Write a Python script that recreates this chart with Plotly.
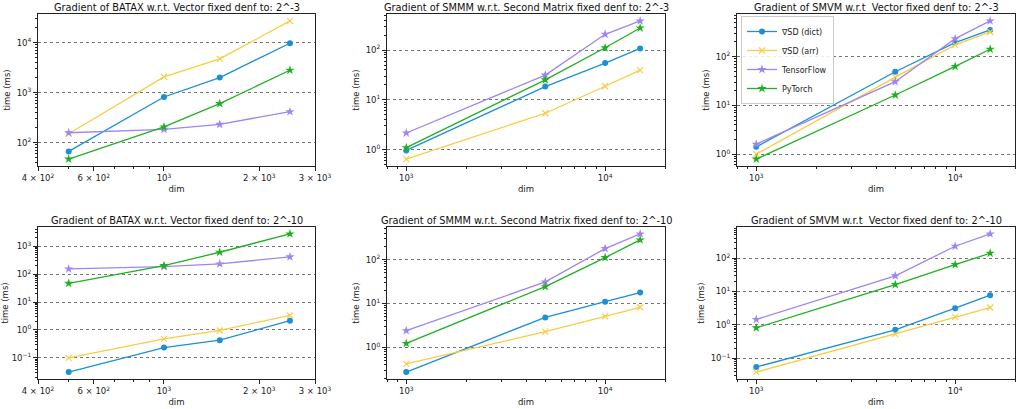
import math
import plotly.graph_objects as go

# ---------------- data ----------------
series_names = ["∇SD (dict)", "∇SD (arr)", "TensorFlow", "PyTorch"]
dims_batax = [500, 1000, 1500, 2500]
dims_sm = [1000, 5000, 10000, 15000]

batax_m3_dict = [67, 819, 2000, 9700]
batax_m3_arr = [151, 2057, 4710, 27100]
batax_m3_tf = [158, 185, 233, 417]
batax_m3_torch = [47, 206, 603, 2800]

smmm_m3_dict = [0.97, 18.5, 54.7, 108]
smmm_m3_arr = [0.65, 5.4, 18.8, 39.6]
smmm_m3_tf = [2.17, 31.4, 207, 384]
smmm_m3_torch = [1.1, 25.3, 111, 277]

smvm_m3_dict = [1.41, 49, 194, 353]
smvm_m3_arr = [1.0, 38, 174, 321]
smvm_m3_tf = [1.6, 30.6, 234, 541]
smvm_m3_torch = [0.79, 16.3, 63, 142]

batax_m10_dict = [0.031, 0.234, 0.43, 2.16]
batax_m10_arr = [0.1, 0.48, 0.96, 3.35]
batax_m10_tf = [154, 186, 233, 417]
batax_m10_torch = [47, 203, 610, 2770]

smmm_m10_dict = [0.274, 4.83, 11.0, 17.7]
smmm_m10_arr = [0.42, 2.28, 5.1, 8.2]
smmm_m10_tf = [2.4, 31, 178, 385]
smmm_m10_torch = [1.23, 24.2, 111, 281]

smvm_m10_dict = [0.054, 0.71, 3.16, 7.76]
smvm_m10_arr = [0.038, 0.525, 1.7, 3.3]
smvm_m10_tf = [1.45, 29.5, 229, 537]
smvm_m10_torch = [0.81, 16.2, 64.6, 141]

titles = [
    "Gradient of BATAX w.r.t. Vector fixed denf to: 2^-3",
    "Gradient of SMMM w.r.t. Second Matrix fixed denf to: 2^-3",
    "Gradient of SMVM w.r.t\u00a0 Vector fixed denf to: 2^-3",
    "Gradient of BATAX w.r.t. Vector fixed denf to: 2^-10",
    "Gradient of SMMM w.r.t. Second Matrix fixed denf to: 2^-10",
    "Gradient of SMVM w.r.t\u00a0 Vector fixed denf to: 2^-10",
]

batax_xticks = [400, 600, 1000, 2000, 3000]
batax_xticktext = ["4 × 10<sup>2</sup>", "6 × 10<sup>2</sup>", "10<sup>3</sup>",
                   "2 × 10<sup>3</sup>", "3 × 10<sup>3</sup>"]
sm_xticks = [1000, 10000]
sm_xticktext = ["10<sup>3</sup>", "10<sup>4</sup>"]

panels = [
    (dims_batax, [batax_m3_dict, batax_m3_arr, batax_m3_tf, batax_m3_torch], "batax"),
    (dims_sm, [smmm_m3_dict, smmm_m3_arr, smmm_m3_tf, smmm_m3_torch], "sm"),
    (dims_sm, [smvm_m3_dict, smvm_m3_arr, smvm_m3_tf, smvm_m3_torch], "sm"),
    (dims_batax, [batax_m10_dict, batax_m10_arr, batax_m10_tf, batax_m10_torch], "batax"),
    (dims_sm, [smmm_m10_dict, smmm_m10_arr, smmm_m10_tf, smmm_m10_torch], "sm"),
    (dims_sm, [smvm_m10_dict, smvm_m10_arr, smvm_m10_tf, smvm_m10_torch], "sm"),
]

# ---------------- style ----------------
colors = ["#1b8fd8", "#f7cd45", "#9e85f2", "#1fb022"]
symbols = ["circle", "x-thin-open", "star", "star"]
msizes = [6, 6, 7, 7]

W, H = 1017, 409
col_px = [(38, 315), (387, 665), (737, 1015)]
row_px = [(14, 166), (227, 379)]

FONT = "DejaVu Sans"
fig = go.Figure()

def minor_vals(lo, hi):
    vals = []
    for k in range(int(math.floor(lo)) - 1, int(math.ceil(hi)) + 1):
        for m in range(2, 10):
            v = m * 10 ** k
            if lo <= math.log10(v) <= hi:
                vals.append(v)
    return vals

annotations = []
for i, (xs, ys_list, kind) in enumerate(panels):
    r, c = divmod(i, 3)
    n = i + 1
    xa = "x" if n == 1 else f"x{n}"
    ya = "y" if n == 1 else f"y{n}"
    for j, ys in enumerate(ys_list):
        fig.add_trace(go.Scatter(
            x=xs, y=ys, mode="lines+markers", name=series_names[j],
            xaxis=xa, yaxis=ya, showlegend=(i == 2),
            line=dict(color=colors[j], width=1.3),
            marker=dict(symbol=symbols[j], size=msizes[j], color=colors[j],
                        line=dict(color=colors[j], width=1.2 if j == 1 else 0)),
        ))
    # y range like matplotlib autoscale (5% margin in log space)
    allv = [v for ys in ys_list for v in ys]
    lo, hi = math.log10(min(allv)), math.log10(max(allv))
    span = hi - lo
    ylo, yhi = lo - 0.05 * span, hi + 0.05 * span
    ks = list(range(math.ceil(ylo), math.floor(yhi) + 1))
    yt = [10 ** k for k in ks]
    ytt = [f"10<sup>{k if k >= 0 else '−' + str(-k)}</sup>" for k in ks]

    if kind == "batax":
        xr = [math.log10(400), math.log10(3000)]
        xt, xtt = batax_xticks, batax_xticktext
    else:
        xr = [math.log10(800), math.log10(20000)]
        xt, xtt = sm_xticks, sm_xticktext
    xminor = [v for v in minor_vals(xr[0], xr[1]) if v not in xt]

    x0, x1 = col_px[c]
    y0, y1 = row_px[r]
    common = dict(showline=True, linecolor="#222", linewidth=1, mirror=True,
                  ticks="outside", ticklen=4, tickwidth=1, tickcolor="#222",
                  tickfont=dict(family=FONT, size=8.5, color="#222"),
                  zeroline=False, automargin=False)
    fig.layout[("xaxis" if n == 1 else f"xaxis{n}")] = dict(
        type="log", domain=[x0 / W, x1 / W], anchor=ya, range=xr,
        tickmode="array", tickvals=xt, ticktext=xtt, showgrid=False,
        minor=dict(tickmode="array", tickvals=xminor, ticks="outside", ticklen=2,
                   tickcolor="#222", showgrid=False),
        title=dict(text="dim", font=dict(family=FONT, size=8.5, color="#222"), standoff=3),
        **common)
    fig.layout[("yaxis" if n == 1 else f"yaxis{n}")] = dict(
        type="log", domain=[1 - y1 / H, 1 - y0 / H], anchor=xa, range=[ylo, yhi],
        tickmode="array", tickvals=yt, ticktext=ytt,
        showgrid=True, gridcolor="#777", griddash="dot", gridwidth=0.8,
        minor=dict(tickmode="array", tickvals=minor_vals(ylo, yhi), ticks="outside",
                   ticklen=2, tickcolor="#222", showgrid=False),
        title=dict(text="time (ms)", font=dict(family=FONT, size=8.5, color="#222"), standoff=4),
        **common)
    annotations.append(dict(
        text=titles[i], x=(x0 + x1) / 2 / W, y=1 - (y0 - 7) / H, xref="paper", yref="paper",
        xanchor="center", yanchor="middle", showarrow=False,
        font=dict(family=FONT, size=9.8, color="#111")))

fig.update_layout(
    width=W, height=H, margin=dict(l=0, r=0, t=0, b=0),
    paper_bgcolor="white", plot_bgcolor="white",
    annotations=annotations,
    legend=dict(x=741 / W, y=1 - 16 / H, xanchor="left", yanchor="top",
                bgcolor="rgba(255,255,255,0.85)", bordercolor="#ccc", borderwidth=1,
                font=dict(family=FONT, size=8, color="#222"),
                tracegroupgap=0, itemwidth=30),
    showlegend=True,
)

fig.write_html("out.html",
               config={"displayModeBar": False},
               post_script="document.body.style.margin='0';document.body.style.overflow='hidden';")
